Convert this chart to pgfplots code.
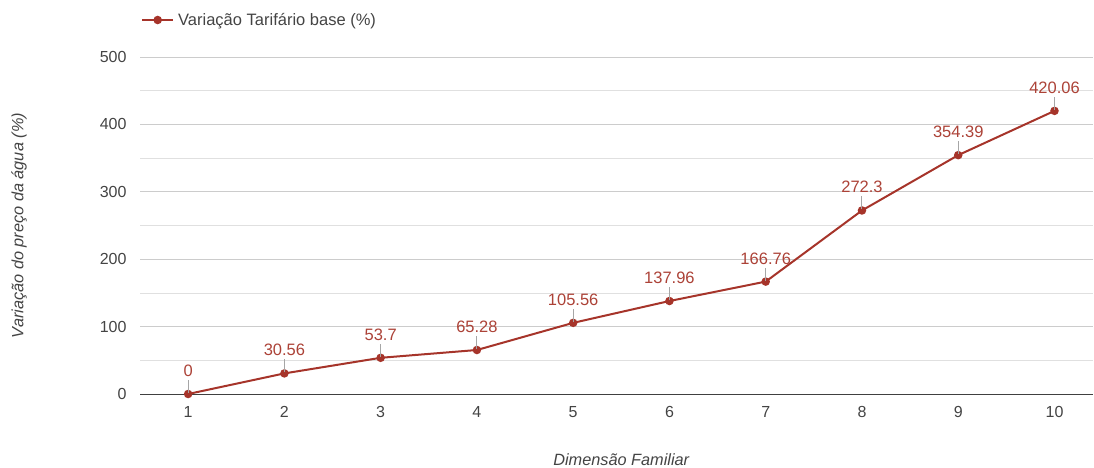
\documentclass[border=0pt]{standalone}
\usepackage{fontspec}
\setmainfont{Liberation Sans}
\usepackage{pgfplots}
\pgfplotsset{compat=1.18}
\definecolor{serie}{RGB}{166,52,42}
\definecolor{rotulo}{RGB}{172,66,55}
\definecolor{grade}{RGB}{204,204,204}
\definecolor{gradeleve}{RGB}{224,224,224}
\definecolor{texto}{RGB}{68,68,68}
\begin{document}
\begin{tikzpicture}
\path[use as bounding box] (0,0) rectangle (1094bp,468bp);
\begin{axis}[
    at={(140bp,74bp)}, anchor=south west,
    scale only axis,
    width=953bp, height=337bp,
    xmin=0.5, xmax=10.4,
    ymin=0, ymax=500,
    xtick={1,...,10},
    ytick={0,100,...,500},
    minor ytick={50,150,...,450},
    major tick length=0pt, minor tick length=0pt,
    ymajorgrids, yminorgrids,
    major grid style={grade, line width=0.8bp},
    minor grid style={gradeleve, line width=0.8bp},
    axis x line*=bottom,
    axis y line*=left,
    x axis line style={-, draw=black!75, line width=0.9bp},
    y axis line style={draw=none},
    /pgf/number format/assume math mode=true,
    tick label style={font=\fontsize{16bp}{18bp}\selectfont, text=texto},
    xticklabel style={yshift=-9bp},
    yticklabel style={xshift=-10bp},
    xlabel={\itshape Dimensão Familiar},
    ylabel={\itshape Variação do preço da água (\%)},
    label style={font=\fontsize{16.3bp}{18bp}\selectfont, text=texto},
    xlabel style={at={(axis description cs:0.505,-0.196)}, anchor=center},
    ylabel style={at={(axis description cs:-0.127,0.5)}, anchor=center, rotate=0},
    legend style={at={(axis description cs:0,1)}, anchor=west, xshift=1bp, yshift=37bp,
        draw=none, fill=none, font=\fontsize{16.5bp}{18bp}\selectfont, text=texto,
        inner sep=0pt, legend cell align=left,
        nodes={inner xsep=4bp}},
    legend image code/.code={
        \draw[#1, line width=2bp] (0bp,0bp) -- (31bp,0bp);
        \fill[serie] (15.5bp,0bp) circle (3.2bp);},
    nodes near coords={\textcolor{rotulo}{\pgfmathprintnumber{\pgfplotspointmeta}}\\[0.5bp]\textcolor{gray!70}{\rule{1bp}{13bp}}},
    every node near coord/.append style={anchor=south, align=center, inner sep=0pt,
        yshift=0bp, font=\fontsize{16.5bp}{16bp}\selectfont},
    clip=false,
]
\addplot[serie, line width=2bp, mark=*, mark size=3.2bp, mark options={solid, fill=serie, draw=serie}]
coordinates {
(1,0) (2,30.56) (3,53.7) (4,65.28) (5,105.56)
(6,137.96) (7,166.76) (8,272.3) (9,354.39) (10,420.06)
};
\addlegendentry{Variação Tarifário base (\%)}
\end{axis}
\end{tikzpicture}
\end{document}
